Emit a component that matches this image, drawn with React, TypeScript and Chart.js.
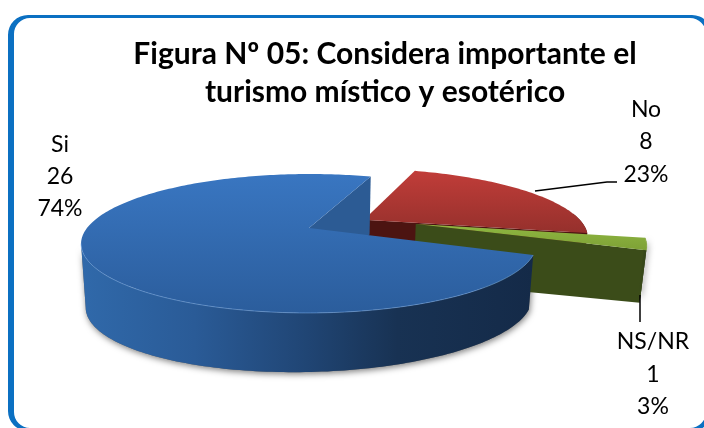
import React, { useEffect, useRef } from "react";
import { Chart, registerables } from "chart.js";

Chart.register(...registerables);

const categories = ["Si", "No", "NS/NR"];
const answers = [26, 8, 1];
const titleLines = ["Figura Nº 05: Considera importante el", "turismo místico y esotérico"];

const FONT_LABEL = "23px Lato";
const BORDER = "#0b70c2";

// styling of the pseudo 3D view
const rotationDeg = 112;
const explode = [[-0.018, 0], [0.236, -0.13], [0.469, -0.06]];
const labelBoxes = [[60, 145, 32], [646, 109.5, 32.5], [653, 342, 32.5]];
const leaders = [
  [[535, 191], [607, 182], [617, 182]],
  [[640, 295], [640, 322]],
];

const VIEW = { x0: 313, y0: 228, a: 222, b: 66, k: 0.223, depth: 59, tilt: 0.02 };

type Pt = { x: number; y: number };

const project = (u: number, v: number): Pt => {
  const w = 1 / (1 - VIEW.k * v);
  return { x: VIEW.x0 + VIEW.a * u * w, y: VIEW.y0 + VIEW.b * v * w };
};
const lower = (p: Pt): Pt => ({
  x: p.x + (VIEW.x0 - p.x) * VIEW.tilt,
  y: p.y + VIEW.depth - VIEW.tilt * (p.x - VIEW.x0),
});

const trace = (ctx: CanvasRenderingContext2D, pts: Pt[]) => {
  ctx.beginPath();
  pts.forEach((p, i) => (i ? ctx.lineTo(p.x, p.y) : ctx.moveTo(p.x, p.y)));
  ctx.closePath();
};

const skins = [
  {
    top: ["#3976c1", "#2b5d9c"],
    wall: "#2c5b94",
    side: [[0, "#3069aa"], [0.25, "#2a5b97"], [0.5, "#204574"], [0.7, "#183253"], [1, "#142a48"]],
    rim: "rgba(125,175,235,0.5)",
  },
  {
    top: ["#c13d39", "#95302c"],
    wall: "#4c1411",
    side: [[0, "#4c1411"], [1, "#4c1411"]],
    rim: "rgba(0,0,0,0)",
  },
  {
    top: ["#8fb741", "#7ea136"],
    wall: "#3b4c19",
    side: [[0, "#3b4c19"], [1, "#33441a"]],
    rim: "rgba(170,205,100,0.6)",
  },
];

const view3d = {
  id: "view3d",
  beforeDraw(chart: any) {
    const ctx: CanvasRenderingContext2D = chart.ctx;
    ctx.save();
    ctx.fillStyle = BORDER;
    ctx.beginPath();
    ctx.roundRect(8, 15, 704, 416, 20);
    ctx.roundRect(14, 18, 692, 410, 16);
    ctx.fill("evenodd");
    ctx.restore();
  },
  beforeDatasetsDraw(chart: any) {
    const ctx: CanvasRenderingContext2D = chart.ctx;
    const arcs = chart.getDatasetMeta(0).data;
    const shapes = arcs.map((arc: any, i: number) => {
      let start = arc.startAngle;
      let end = arc.endAngle;
      while (start > Math.PI * 1.5) {
        start -= Math.PI * 2;
        end -= Math.PI * 2;
      }
      const [sx, sy] = explode[i];
      const at = (t: number) => project(sx + Math.cos(t), sy + Math.sin(t));
      const apex = project(sx, sy);
      const curve = (a: number, b: number) => {
        const out: Pt[] = [];
        const n = Math.max(2, Math.ceil((b - a) / 0.02));
        for (let j = 0; j <= n; j++) out.push(at(a + ((b - a) * j) / n));
        return out;
      };
      const topPts = [apex, ...curve(start, end)];
      const a = Math.max(start, -0.1);
      const b = Math.min(end, Math.PI - Math.asin(VIEW.k));
      const front = curve(a, b);
      const sidePts = [...front, ...front.slice().reverse().map(lower)];
      const tip = at(end);
      const wallPts = [apex, tip, lower(tip), lower(apex)];
      const ys = topPts.map((p) => p.y);
      return { topPts, sidePts, wallPts, front, minY: Math.min(...ys), maxY: Math.max(...ys) };
    });

    // soft shadow under the solids
    ctx.save();
    ctx.shadowColor = "rgba(0,0,0,0.5)";
    ctx.shadowBlur = 6;
    ctx.shadowOffsetY = 2;
    ctx.shadowOffsetX = 1;
    ctx.fillStyle = "#666";
    [0, 2].forEach((i) => {
      trace(ctx, shapes[i].sidePts);
      ctx.fill();
    });
    ctx.restore();

    [1, 2, 0].forEach((i) => {
      const s = shapes[i];
      const skin = skins[i];
      ctx.fillStyle = skin.wall;
      trace(ctx, s.wallPts);
      ctx.fill();

      const xs = s.sidePts.map((p: Pt) => p.x);
      const gs = ctx.createLinearGradient(Math.min(...xs), 0, Math.max(...xs), 0);
      skin.side.forEach(([o, c]) => gs.addColorStop(o as number, c as string));
      ctx.fillStyle = gs;
      trace(ctx, s.sidePts);
      ctx.fill();

      const gt = ctx.createLinearGradient(0, s.minY, 0, s.maxY);
      gt.addColorStop(0, skin.top[0]);
      gt.addColorStop(1, skin.top[1]);
      ctx.fillStyle = gt;
      trace(ctx, s.topPts);
      ctx.fill();

      ctx.strokeStyle = skin.rim;
      ctx.lineWidth = 1;
      ctx.beginPath();
      s.front.forEach((p: Pt, j: number) => (j ? ctx.lineTo(p.x, p.y) : ctx.moveTo(p.x, p.y)));
      ctx.stroke();
    });
    return false;
  },
  afterDraw(chart: any) {
    const ctx: CanvasRenderingContext2D = chart.ctx;
    const values: number[] = chart.data.datasets[0].data;
    const names: string[] = chart.data.labels;
    const total = values.reduce((a, b) => a + b, 0);
    ctx.save();
    ctx.strokeStyle = "#000";
    ctx.lineWidth = 1.5;
    leaders.forEach((line) => {
      ctx.beginPath();
      line.forEach(([x, y], i) => (i ? ctx.lineTo(x, y) : ctx.moveTo(x, y)));
      ctx.stroke();
    });
    ctx.fillStyle = "#000";
    ctx.font = FONT_LABEL;
    ctx.textAlign = "center";
    ctx.textBaseline = "middle";
    values.forEach((v, i) => {
      const [x, y, gap] = labelBoxes[i];
      const rows = [names[i], String(v), `${Math.round((v / total) * 100)}%`];
      rows.forEach((t, r) => ctx.fillText(t, x, y + r * gap));
    });
    ctx.restore();
  },
};

export default function App() {
  const ref = useRef<HTMLCanvasElement>(null);
  useEffect(() => {
    const chart = new Chart(ref.current!, {
      type: "pie",
      data: {
        labels: categories,
        datasets: [
          {
            data: answers,
            backgroundColor: ["#3465A4", "#B03431", "#8AB33F"],
            borderWidth: 0,
          },
        ],
      },
      options: {
        animation: false,
        responsive: false,
        events: [],
        rotation: rotationDeg,
        layout: { padding: { left: 66, top: 35, right: 0, bottom: 0 } },
        plugins: {
          legend: { display: false },
          tooltip: { enabled: false },
          title: {
            display: true,
            text: titleLines,
            color: "#000",
            padding: 0,
            font: { family: "Lato", size: 30, weight: "bold", lineHeight: 38 / 30 },
          },
        },
      },
      plugins: [view3d],
    } as any);
    return () => chart.destroy();
  }, []);
  return (
    <div style={{ position: "absolute", left: 0, top: 0, width: 704, height: 428, background: "#fff", overflow: "hidden" }}>
      <canvas ref={ref} width={704} height={428} style={{ display: "block" }} />
    </div>
  );
}
